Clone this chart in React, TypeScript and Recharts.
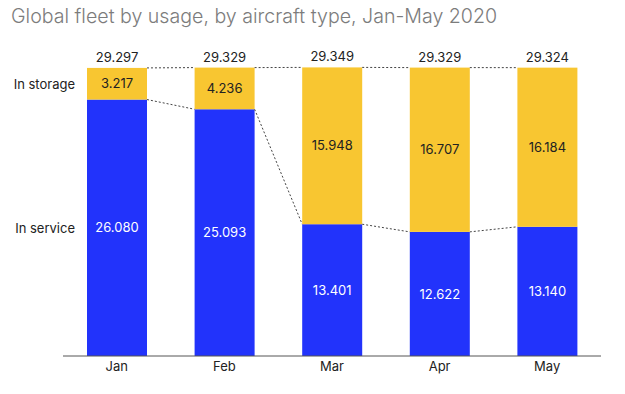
import React from 'react';
import { BarChart, Bar, XAxis, YAxis, LabelList } from 'recharts';

const months = ['Jan', 'Feb', 'Mar', 'Apr', 'May'];
// aircraft counts
const inService = [26080, 25093, 13401, 12622, 13140];
const inStorage = [3217, 4236, 15948, 16707, 16184];
const seriesNames = ['In service', 'In storage'];

const data = months.map((m, i) => ({
  month: m,
  service: inService[i],
  storage: inStorage[i],
  total: inService[i] + inStorage[i],
}));

const W = 625;
const H = 394;
const MARGIN = { top: 61, right: 24, left: 63, bottom: 8 };
const STEP = (W - MARGIN.left - MARGIN.right) / months.length;

const BLUE = '#2233fb';
const YELLOW = '#f8c631';
const FONT = 'Inter, "Noto Sans", sans-serif';

// 26080 -> "26.080"
const fmt = (n: number) =>
  `${Math.floor(n / 1000)}.${String(n % 1000).padStart(3, '0')}`;

const dotted = { stroke: '#444', strokeWidth: 1, strokeDasharray: '2 2' };

const ServiceShape = (props: any) => {
  const { x, y, width, height, index } = props;
  const next = inService[index + 1];
  let link = null;
  if (next !== undefined) {
    const ppu = height / inService[index];
    const base = y + height;
    link = <line x1={x + width} y1={y} x2={x + STEP} y2={base - next * ppu} {...dotted} />;
  }
  return (
    <g>
      <rect x={x} y={y} width={width} height={height} fill={BLUE} />
      {link}
    </g>
  );
};

const StorageShape = (props: any) => {
  const { x, y, width, height, index } = props;
  const next = data[index + 1];
  let link = null;
  if (next) {
    const ppu = height / inStorage[index];
    const base = y + height + inService[index] * ppu;
    link = <line x1={x + width} y1={y} x2={x + STEP} y2={base - next.total * ppu} {...dotted} />;
  }
  return (
    <g>
      <rect x={x} y={y} width={width} height={height} fill={YELLOW} />
      {link}
    </g>
  );
};

const seriesLabel = (name: string) => (props: any) => {
  const { x, y, height, index } = props;
  if (index !== 0) return null;
  return (
    <text x={x - 12} y={y + height / 2} textAnchor="end" dominantBaseline="central"
      fontSize={13} fill="#222" fontFamily={FONT}>
      {name}
    </text>
  );
};

const totalLabel = (props: any) => {
  const { x, y, width, index } = props;
  return (
    <text x={x + width / 2} y={y - 11} textAnchor="middle" dominantBaseline="central"
      fontSize={13} fill="#222" fontFamily={FONT}>
      {fmt(data[index].total)}
    </text>
  );
};

const App = () => (
  <div style={{ position: 'absolute', left: 0, top: 0, width: W, height: H, background: '#fff' }}>
    <div style={{
      position: 'absolute', left: 11, top: 4, fontFamily: FONT, fontSize: 19.6,
      color: '#7c7c7c', whiteSpace: 'nowrap', fontWeight: 300,
    }}>
      Global fleet by usage, by aircraft type, Jan-May 2020
    </div>
    <BarChart width={W} height={H} data={data} margin={MARGIN} barSize={60}>
      <XAxis dataKey="month" axisLine={{ stroke: '#555' }} tickLine={false} tickSize={0}
        tickMargin={6} height={30}
        tick={{ fontSize: 13, fill: '#222', fontFamily: FONT }} />
      <YAxis hide domain={[0, 30000]} />
      <Bar dataKey="service" stackId="a" fill={BLUE} shape={ServiceShape} isAnimationActive={false}>
        <LabelList dataKey="service" position="center" formatter={(v: any) => fmt(v)}
          fill="#fff" fontSize={13} fontFamily={FONT} />
        <LabelList dataKey="service" content={seriesLabel(seriesNames[0])} />
      </Bar>
      <Bar dataKey="storage" stackId="a" fill={YELLOW} shape={StorageShape} isAnimationActive={false}>
        <LabelList dataKey="storage" position="center" formatter={(v: any) => fmt(v)}
          fill="#222" fontSize={13} fontFamily={FONT} />
        <LabelList dataKey="storage" content={seriesLabel(seriesNames[1])} />
        <LabelList dataKey="total" content={totalLabel} />
      </Bar>
    </BarChart>
  </div>
);

export default App;
